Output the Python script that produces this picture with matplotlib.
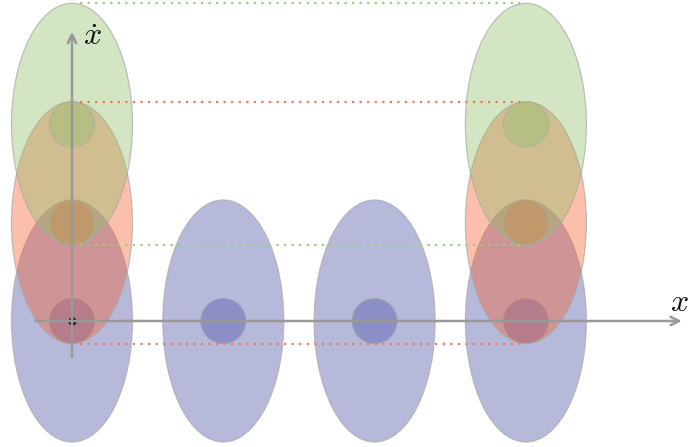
import matplotlib
matplotlib.use("Agg")
import matplotlib.pyplot as plt
from matplotlib.patches import Ellipse, Circle

plt.rcParams["mathtext.fontset"] = "cm"

# Horizontal positions of the state distributions
positions = [0.0, 1.0, 2.0, 3.0]
# Vertical centre of each layer and the positions where it appears
layers = [
    {"name": "blue", "center": 0.0, "at": [0.0, 1.0, 2.0, 3.0], "color": (0.302, 0.322, 0.655)},
    {"name": "red", "center": 0.65, "at": [0.0, 3.0], "color": (0.960, 0.380, 0.184)},
    {"name": "green", "center": 1.3, "at": [0.0, 3.0], "color": (0.569, 0.745, 0.420)},
]
ellipse_width = 0.8
ellipse_height = 1.6
core_radius = 0.15
alpha = 0.4

px_per_unit = 151.3
W, H = 691, 447
x0_px, y0_px = 72, 321

fig = plt.figure(figsize=(W / 100, H / 100), dpi=100)
ax = fig.add_axes([0, 0, 1, 1])
ax.set_xlim(-x0_px / px_per_unit, (W - x0_px) / px_per_unit)
ax.set_ylim(-(H - y0_px) / px_per_unit, y0_px / px_per_unit)
ax.set_aspect("equal")
ax.axis("off")

edge = "#aaaaaa"
z = 1.0
for layer in layers:
    for xc in layer["at"]:
        ax.add_patch(Ellipse((xc, layer["center"]), ellipse_width, ellipse_height,
                             facecolor=layer["color"], alpha=alpha, edgecolor="none", zorder=z))
        ax.add_patch(Ellipse((xc, layer["center"]), ellipse_width, ellipse_height,
                             facecolor="none", edgecolor=edge, lw=0.9, alpha=0.7, zorder=z + 0.01))
        ax.add_patch(Circle((xc, layer["center"]), core_radius,
                            facecolor=layer["color"], alpha=alpha, edgecolor="none", zorder=z + 0.02))
        ax.add_patch(Circle((xc, layer["center"]), core_radius,
                            facecolor="none", edgecolor=edge, lw=0.8, alpha=0.6, zorder=z + 0.03))
    z += 0.1

# Dotted guides at the extent of the red and green ellipses
guide_green = "#9ccc7c"
guide_red = "#f07a55"
half_h = ellipse_height / 2
for layer, col in [(layers[2], guide_green), (layers[1], guide_red)]:
    for yy in (layer["center"] + half_h, layer["center"] - half_h):
        ax.plot([positions[0] + 0.05, positions[3] - 0.04], [yy, yy], ls=(0, (1, 2.4)),
                color=col, lw=1.6, zorder=2)

# Axes arrows
axis_col = "#999999"
ax.annotate("", xy=(4.03, 0), xytext=(-0.245, 0),
            arrowprops=dict(arrowstyle="->,head_length=0.6,head_width=0.3", color=axis_col, lw=1.8,
                            shrinkA=0, shrinkB=0), zorder=3)
ax.annotate("", xy=(0, 1.91), xytext=(0, -0.238),
            arrowprops=dict(arrowstyle="->,head_length=0.6,head_width=0.3", color=axis_col, lw=1.8,
                            shrinkA=0, shrinkB=0), zorder=3)
ax.plot([0], [0], "o", ms=5, color="#222222", zorder=2.5)

ax.text(0.135, 1.88, r"$\dot{x}$", fontsize=23, ha="center", va="center", color="#111111")
ax.text(4.015, 0.12, r"$x$", fontsize=23, ha="center", va="center", color="#111111")

fig.savefig("out.png", dpi=100)
